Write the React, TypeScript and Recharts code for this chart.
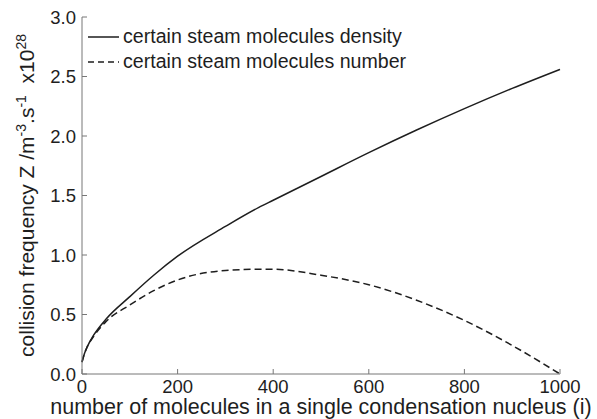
import React from 'react';
import { LineChart, Line, XAxis, YAxis, Legend } from 'recharts';

// values
const nuclei = [0, 5, 10, 25, 50, 100, 150, 200, 300, 370, 400, 500, 600, 700, 800, 900, 1000];
const densityZ = [0.1, 0.17, 0.22, 0.33, 0.46, 0.65, 0.83, 0.99, 1.24, 1.4, 1.46, 1.66, 1.86, 2.05, 2.23, 2.4, 2.56];
const numberZ = [0.1, 0.17, 0.22, 0.32, 0.44, 0.58, 0.7, 0.79, 0.87, 0.88, 0.88, 0.83, 0.75, 0.62, 0.45, 0.24, 0];
const xTicks = [0, 200, 400, 600, 800, 1000];
const yTicks = [0, 0.5, 1.0, 1.5, 2.0, 2.5, 3.0];

const seriesNames = ['certain steam molecules density', 'certain steam molecules number'];

const data = nuclei.map((i, k) => ({ i, density: densityZ[k], number: numberZ[k] }));

const FONT = '"Liberation Sans", Arial, sans-serif';
const INK = '#1e1e1e';
const AXIS = '#777';

const BottomTick = ({ x, y, payload }: any) => (
  <g>
    <line x1={x} y1={y} x2={x} y2={y - 5} stroke={AXIS} />
    <text x={x} y={y + 19} textAnchor="middle" fontSize={18.5} fill={INK} fontFamily={FONT}>{payload.value}</text>
  </g>
);
const TopTick = ({ x, y }: any) => <line x1={x} y1={y} x2={x} y2={y + 5} stroke={AXIS} />;
const LeftTick = ({ x, y, payload }: any) => (
  <g>
    <line x1={x} y1={y} x2={x + 5} y2={y} stroke={AXIS} />
    <text x={x - 6} y={y + 6.5} textAnchor="end" fontSize={18.5} fill={INK} fontFamily={FONT}>{Number(payload.value).toFixed(1)}</text>
  </g>
);
const RightTick = ({ x, y }: any) => <line x1={x} y1={y} x2={x - 5} y2={y} stroke={AXIS} />;

const YLabel = ({ viewBox }: any) => {
  const cy = viewBox.y + viewBox.height / 2;
  const cx = 34;
  return (
    <text x={cx} y={cy} transform={`rotate(-90 ${cx} ${cy})`} textAnchor="middle" fontSize={21} fill={INK} fontFamily={FONT}>
      <tspan>collision frequency Z /m</tspan>
      <tspan dy={-8} fontSize={14}>-3</tspan>
      <tspan dy={8}>.s</tspan>
      <tspan dy={-8} fontSize={14}>-1</tspan>
      <tspan dy={8}>{'\u00a0 x10'}</tspan>
      <tspan dy={-8} fontSize={14}>28</tspan>
    </text>
  );
};

const XLabel = ({ viewBox }: any) => (
  <text x={viewBox.x + viewBox.width / 2} y={414} textAnchor="middle" fontSize={21.5} fill={INK} fontFamily={FONT}>
    number of molecules in a single condensation nucleus (i)
  </text>
);

const LegendBox = () => (
  <div style={{ fontFamily: FONT, fontSize: 19.6, color: INK, lineHeight: '25px' }}>
    {seriesNames.map((name, k) => (
      <div key={name} style={{ display: 'flex', alignItems: 'center', whiteSpace: 'nowrap' }}>
        <svg width={31} height={10}>
          <line x1={0} y1={5} x2={31} y2={5} stroke={INK} strokeWidth={1.5} strokeDasharray={k === 1 ? '6 4' : undefined} />
        </svg>
        <span style={{ marginLeft: 4 }}>{name}</span>
      </div>
    ))}
  </div>
);

export default function App() {
  return (
    <div style={{ position: 'absolute', left: 0, top: 0, background: '#fff' }}>
      <LineChart width={597} height={419} data={data} margin={{ top: 17, right: 37, bottom: 0, left: 0 }}>
        <XAxis
          dataKey="i" type="number" domain={[0, 1000]} ticks={xTicks} height={45}
          tickSize={0} tickMargin={0} tickLine={false} tick={<BottomTick />}
          axisLine={{ stroke: AXIS }} label={<XLabel />}
        />
        <XAxis
          xAxisId="top" orientation="top" dataKey="i" type="number" domain={[0, 1000]} ticks={xTicks} height={0}
          tickSize={0} tickMargin={0} tickLine={false} tick={<TopTick />} axisLine={{ stroke: AXIS }}
        />
        <YAxis
          type="number" domain={[0, 3]} ticks={yTicks} width={82}
          tickSize={0} tickMargin={0} tickLine={false} tick={<LeftTick />}
          axisLine={{ stroke: AXIS }} label={<YLabel />}
        />
        <YAxis
          yAxisId="right" orientation="right" type="number" domain={[0, 3]} ticks={yTicks} width={0}
          tickSize={0} tickMargin={0} tickLine={false} tick={<RightTick />} axisLine={{ stroke: AXIS }}
        />
        <Legend content={<LegendBox />} layout="horizontal" verticalAlign="middle" align="center" wrapperStyle={{ top: 24, left: 88, width: 360, height: 50 }} />
        <Line type="monotone" dataKey="density" stroke={INK} strokeWidth={1.5} dot={false} isAnimationActive={false} />
        <Line type="monotone" dataKey="number" stroke={INK} strokeWidth={1.5} strokeDasharray="7 4" dot={false} isAnimationActive={false} />
      </LineChart>
    </div>
  );
}
